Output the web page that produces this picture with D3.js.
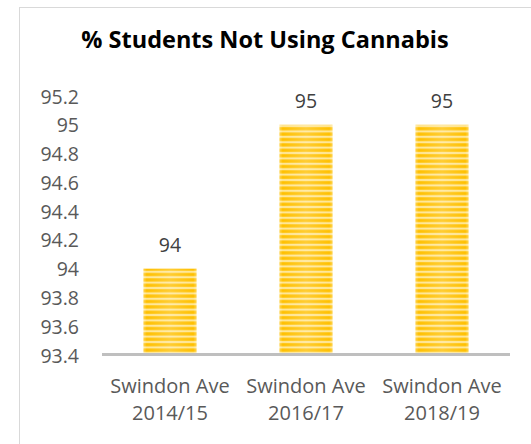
<!DOCTYPE html>
<html>
<head>
<meta charset="utf-8">
<script src="https://cdn.jsdelivr.net/npm/d3@7"></script>
<style>
  html, body { margin: 0; padding: 0; background: #fff; }
  svg { display: block; }
</style>
</head>
<body>
<svg id="chart" width="531" height="444"></svg>
<script>
// Chart data
const title = "% Students Not Using Cannabis";
const categories = [["Swindon Ave", "2014/15"], ["Swindon Ave", "2016/17"], ["Swindon Ave", "2018/19"]];
const values = [94, 95, 95];
const yTicks = [93.4, 93.6, 93.8, 94, 94.2, 94.4, 94.6, 94.8, 95, 95.2];

const W = 531, H = 444;
const svg = d3.select("#chart");
const font = "'Open Sans', 'Noto Sans', sans-serif";

// Outer chart frame
svg.append("rect")
  .attr("x", 19.5).attr("y", 7.5)
  .attr("width", W + 10).attr("height", H + 10)
  .attr("fill", "#fff").attr("stroke", "#d9d9d9").attr("stroke-width", 1);

// Striped gold fill for bars
const defs = svg.append("defs");
const pat = defs.append("pattern")
  .attr("id", "stripes").attr("patternUnits", "userSpaceOnUse")
  .attr("width", 10).attr("height", 5.4);
pat.append("rect").attr("width", 10).attr("height", 5.4).attr("fill", "#FFC000");
pat.append("rect").attr("y", 0.6).attr("width", 10).attr("height", 2.4).attr("fill", "#FFD85C");
pat.append("rect").attr("y", 1.2).attr("width", 10).attr("height", 1.2).attr("fill", "#FFEDB0");

const sheen = defs.append("linearGradient").attr("id", "sheen")
  .attr("x1", "0").attr("x2", "1").attr("y1", "0").attr("y2", "0");
sheen.append("stop").attr("offset", "0").attr("stop-color", "#fff").attr("stop-opacity", 0.3);
sheen.append("stop").attr("offset", "0.06").attr("stop-color", "#fff").attr("stop-opacity", 0);
sheen.append("stop").attr("offset", "0.5").attr("stop-color", "#fff").attr("stop-opacity", 0.2);
sheen.append("stop").attr("offset", "0.94").attr("stop-color", "#fff").attr("stop-opacity", 0);
sheen.append("stop").attr("offset", "1").attr("stop-color", "#fff").attr("stop-opacity", 0.3);

// Plot area
const plot = { left: 102, right: 510, top: 96, bottom: 355 };

const x = d3.scaleBand()
  .domain(d3.range(categories.length))
  .range([plot.left, plot.right])
  .paddingInner(0.61).paddingOuter(0.305);

const y = d3.scaleLinear()
  .domain([93.4, 95.2])
  .range([plot.bottom, plot.top]);

// Y axis labels (no line, no ticks)
const yAxis = d3.axisLeft(y).tickValues(yTicks).tickSize(0).tickPadding(0)
  .tickFormat(d => d3.format("~g")(d));
const yg = svg.append("g").attr("transform", "translate(79,0)").call(yAxis);
yg.select(".domain").remove();
yg.selectAll("text")
  .attr("font-family", font).attr("font-size", 19.5).attr("fill", "#595959")
  .attr("dy", "0.36em");

// Bars
const bars = svg.append("g");
bars.selectAll("rect.bar").data(values).join("rect")
  .attr("class", "bar")
  .attr("x", (d, i) => x(i)).attr("width", x.bandwidth())
  .attr("y", d => y(d)).attr("height", d => y(93.4) - y(d))
  .attr("fill", "url(#stripes)");
bars.selectAll("rect.sheen").data(values).join("rect")
  .attr("class", "sheen")
  .attr("x", (d, i) => x(i)).attr("width", x.bandwidth())
  .attr("y", d => y(d)).attr("height", d => y(93.4) - y(d))
  .attr("fill", "url(#sheen)");

// Value labels
svg.append("g").selectAll("text").data(values).join("text")
  .attr("x", (d, i) => x(i) + x.bandwidth() / 2)
  .attr("y", d => y(d) - 17)
  .attr("text-anchor", "middle")
  .attr("font-family", font).attr("font-size", 19.5).attr("fill", "#404040")
  .text(d => d);

// X axis line
const xAxis = d3.axisBottom(x).tickSize(0).tickFormat("");
const xg = svg.append("g").attr("transform", `translate(0,${plot.bottom - 0.5})`).call(xAxis);
xg.select(".domain").attr("stroke", "#bfbfbf").attr("stroke-width", 3)
  .attr("d", `M${plot.left},0H${plot.right}`);

// Category labels (two lines)
const cl = svg.append("g").selectAll("text").data(categories).join("text")
  .attr("x", (d, i) => x(i) + x.bandwidth() / 2)
  .attr("y", 393)
  .attr("text-anchor", "middle")
  .attr("font-family", font).attr("font-size", 20).attr("fill", "#595959");
cl.selectAll("tspan").data(d => d).join("tspan")
  .attr("x", function () { return d3.select(this.parentNode).attr("x"); })
  .attr("dy", (d, j) => j === 0 ? 0 : 27)
  .text(d => d);

// Title
svg.append("text")
  .attr("x", 265).attr("y", 48)
  .attr("text-anchor", "middle")
  .attr("font-family", font).attr("font-weight", "bold")
  .attr("font-size", 23.5).attr("fill", "#000")
  .text(title);
</script>
</body>
</html>
